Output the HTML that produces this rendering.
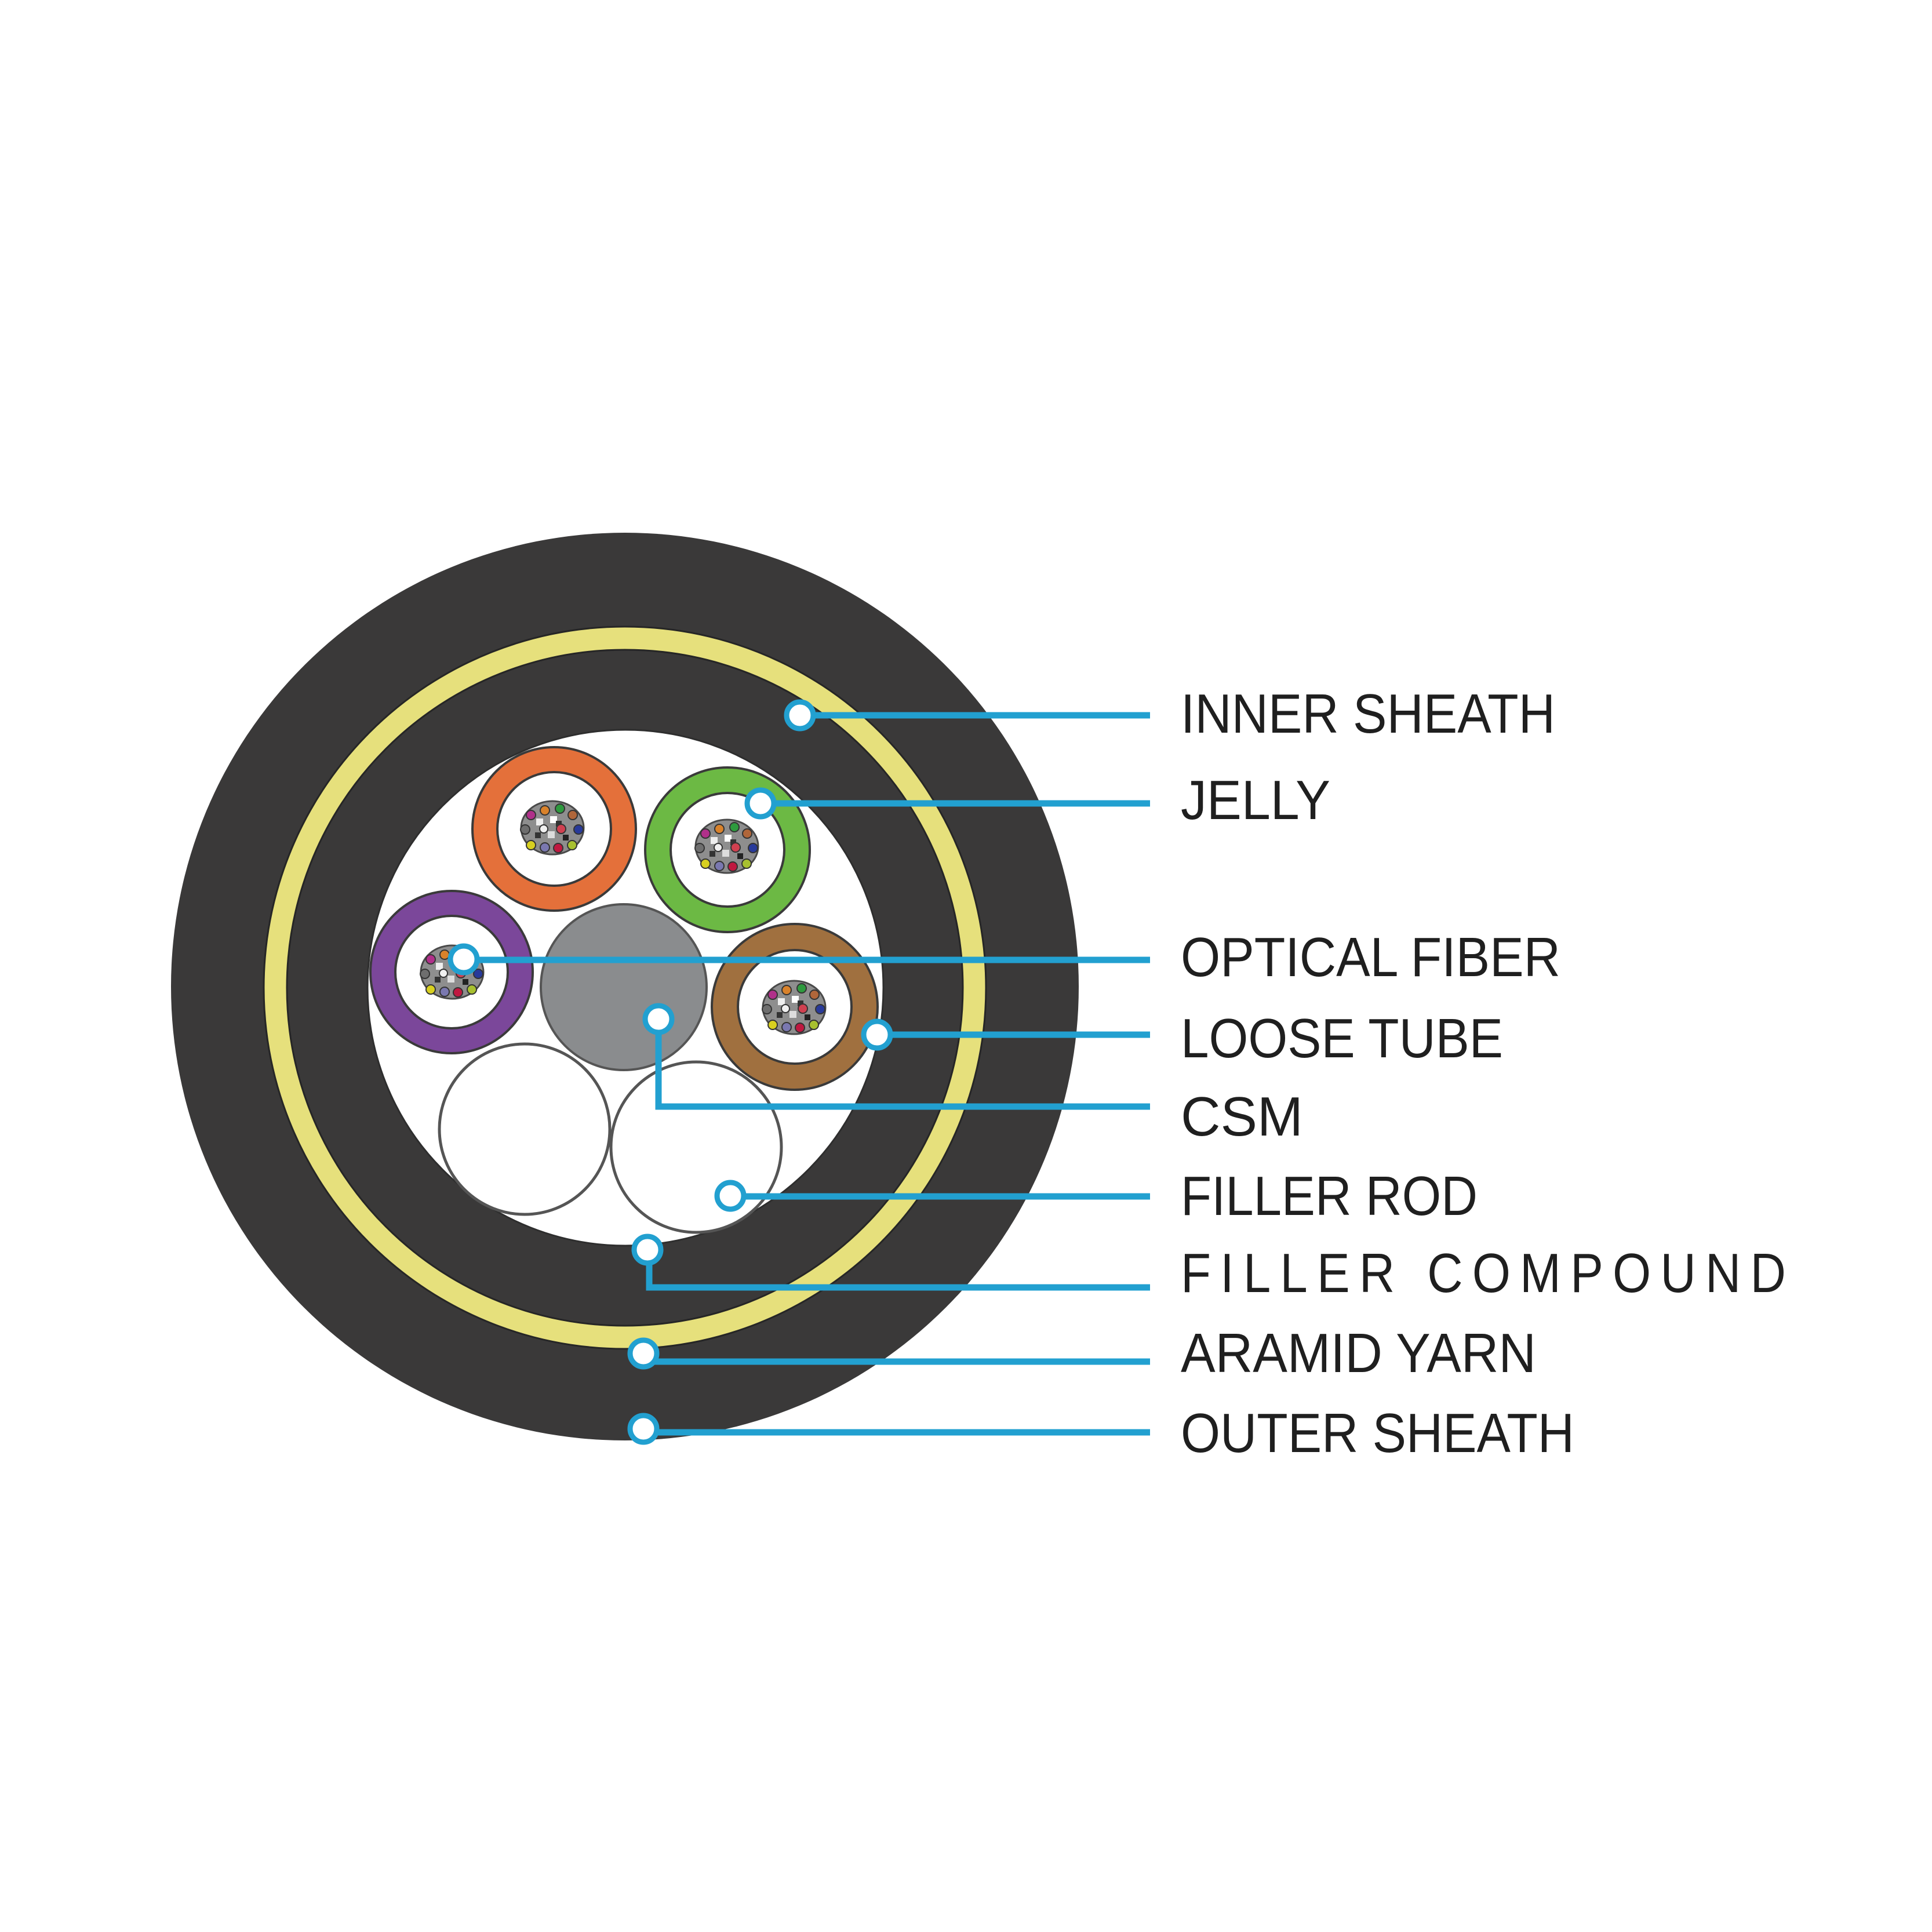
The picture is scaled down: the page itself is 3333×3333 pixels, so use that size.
<!DOCTYPE html>
<html>
<head>
<meta charset="utf-8">
<style>
  html,body{margin:0;padding:0;background:#fff;}
  svg{display:block;}
  text{font-family:"Liberation Sans", Arial, sans-serif; font-size:96px; fill:#1f1f1f;}
</style>
</head>
<body>
<svg width="3333" height="3333" viewBox="0 0 3333 3333" xmlns="http://www.w3.org/2000/svg">
  <defs>
    <g id="fb">
      <ellipse cx="0" cy="0" rx="54" ry="46" fill="#8e8e8e" stroke="#4a4a4a" stroke-width="3"/>
      <rect x="-28" y="-16" width="12" height="12" fill="#eee"/>
      <rect x="-4" y="-20" width="12" height="12" fill="#fff"/>
      <rect x="-8" y="6" width="12" height="12" fill="#ddd"/>
      <rect x="18" y="12" width="10" height="10" fill="#222"/>
      <rect x="-30" y="8" width="10" height="10" fill="#333"/>
      <rect x="6" y="-12" width="10" height="10" fill="#333"/>
      <g stroke="#333" stroke-width="2">
        <circle cx="-13" cy="-30" r="8" fill="#d9822b"/>
        <circle cx="13" cy="-33" r="8" fill="#2e9a3e"/>
        <circle cx="-37" cy="-22" r="8" fill="#b0308a"/>
        <circle cx="35" cy="-22" r="8" fill="#b0663a"/>
        <circle cx="45" cy="3" r="8" fill="#283a9a"/>
        <circle cx="-47" cy="3" r="8" fill="#6e6e6e"/>
        <circle cx="-37" cy="30" r="8" fill="#d8d020"/>
        <circle cx="-13" cy="34" r="8" fill="#7a78b0"/>
        <circle cx="10" cy="35" r="8" fill="#c01840"/>
        <circle cx="34" cy="30" r="8" fill="#a8c030"/>
        <circle cx="15" cy="2" r="8" fill="#d04050"/>
        <circle cx="-15" cy="2" r="7" fill="#f0f0f0"/>
      </g>
    </g>
  </defs>

  <!-- outer sheath -->
  <circle cx="1078" cy="1702" r="783" fill="#3a3939"/>
  <!-- aramid yarn (yellow ring) -->
  <circle cx="1078" cy="1704" r="603" fill="none" stroke="#e6e07c" stroke-width="38"/>
  <circle cx="1078" cy="1704" r="623" fill="none" stroke="#262626" stroke-width="3"/>
  <circle cx="1078" cy="1704" r="583" fill="none" stroke="#262626" stroke-width="3"/>
  <!-- core (filler compound) -->
  <circle cx="1079" cy="1704" r="445" fill="#ffffff" stroke="#2e2e2e" stroke-width="3"/>

  <!-- filler rods -->
  <circle cx="905" cy="1948" r="147" fill="#fff" stroke="#555" stroke-width="5"/>
  <circle cx="1201" cy="1979" r="147" fill="#fff" stroke="#555" stroke-width="5"/>
  <!-- CSM -->
  <circle cx="1076" cy="1703" r="143" fill="#8a8c8e" stroke="#555" stroke-width="4"/>

  <!-- loose tubes -->
  <circle cx="956" cy="1430" r="141" fill="#e4703a" stroke="#3a3a3a" stroke-width="4"/>
  <circle cx="956" cy="1430" r="98" fill="#fff" stroke="#3a3a3a" stroke-width="4"/>
  <use href="#fb" x="953" y="1428"/>

  <circle cx="1255" cy="1466" r="142" fill="#6cb944" stroke="#3a3a3a" stroke-width="4"/>
  <circle cx="1255" cy="1466" r="98" fill="#fff" stroke="#3a3a3a" stroke-width="4"/>
  <use href="#fb" x="1254" y="1460"/>

  <circle cx="779" cy="1677" r="140" fill="#7b479a" stroke="#3a3a3a" stroke-width="4"/>
  <circle cx="779" cy="1677" r="97" fill="#fff" stroke="#3a3a3a" stroke-width="4"/>
  <use href="#fb" x="780" y="1677"/>

  <circle cx="1371" cy="1737" r="143" fill="#a0703f" stroke="#3a3a3a" stroke-width="4"/>
  <circle cx="1371" cy="1737" r="98" fill="#fff" stroke="#3a3a3a" stroke-width="4"/>
  <use href="#fb" x="1370" y="1738"/>

  <!-- connectors -->
  <g fill="none" stroke="#22a0d0" stroke-width="11" stroke-linejoin="miter">
    <path d="M1380 1234 H1984"/>
    <path d="M1312 1386 H1984"/>
    <path d="M800 1656 H1984"/>
    <path d="M1513 1785 H1984"/>
    <path d="M1136 1758 V1909 H1984"/>
    <path d="M1260 2064 H1984"/>
    <path d="M1120 2156 V2221 H1984"/>
    <path d="M1110 2336 L1126 2349 H1984"/>
    <path d="M1110 2466 L1124 2471 H1984"/>
  </g>
  <g fill="#ffffff" stroke="#22a0d0" stroke-width="9">
    <circle cx="1380" cy="1234" r="23"/>
    <circle cx="1312" cy="1386" r="23"/>
    <circle cx="800" cy="1655" r="23"/>
    <circle cx="1513" cy="1785" r="23"/>
    <circle cx="1136" cy="1758" r="23"/>
    <circle cx="1260" cy="2063" r="23"/>
    <circle cx="1117" cy="2156" r="23"/>
    <circle cx="1110" cy="2335" r="23"/>
    <circle cx="1110" cy="2465" r="23"/>
  </g>

  <!-- labels -->
  <text x="2037" y="1264" textLength="646" lengthAdjust="spacingAndGlyphs">INNER SHEATH</text>
  <text x="2037" y="1413" textLength="258" lengthAdjust="spacingAndGlyphs">JELLY</text>
  <text x="2037" y="1684" textLength="655" lengthAdjust="spacingAndGlyphs">OPTICAL FIBER</text>
  <text x="2037" y="1824" textLength="556" lengthAdjust="spacingAndGlyphs">LOOSE TUBE</text>
  <text x="2037" y="1959" textLength="211" lengthAdjust="spacingAndGlyphs">CSM</text>
  <text x="2037" y="2096" textLength="512" lengthAdjust="spacingAndGlyphs">FILLER ROD</text>
  <text x="0" y="0" transform="translate(2037,2229) scale(0.887,1)" textLength="1177" lengthAdjust="spacing">FILLER COMPOUND</text>
  <text x="2037" y="2367" textLength="613" lengthAdjust="spacingAndGlyphs">ARAMID YARN</text>
  <text x="2037" y="2505" textLength="679" lengthAdjust="spacingAndGlyphs">OUTER SHEATH</text>
</svg>
</body>
</html>
